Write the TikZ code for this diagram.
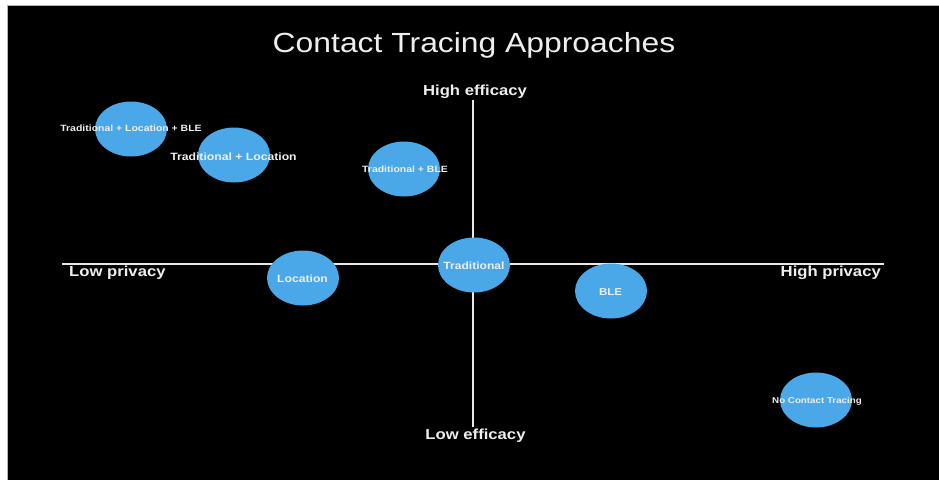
\documentclass[tikz,border=0pt]{standalone}
\usepackage{fontspec}
\setmainfont{Liberation Sans}[FakeStretch=1.15]
\usetikzlibrary{shapes.geometric}
\definecolor{bubbleblue}{RGB}{74,168,232}
\definecolor{txtwhite}{RGB}{238,238,238}
\definecolor{axiscol}{RGB}{232,232,232}
\tikzset{
  bubble/.style={ellipse, fill=bubbleblue, draw=none, minimum width=72pt, minimum height=55pt, inner sep=0pt},
  blabel/.style={text=txtwhite, font=\bfseries\fontsize{#1}{#1}\selectfont, inner sep=0pt},
  axislabel/.style={text=txtwhite, font=\bfseries\fontsize{14.5}{16}\selectfont, inner sep=0pt},
  axisline/.style={draw=axiscol, line width=2.8pt},
}
\begin{document}
\begin{tikzpicture}[x=1pt,y=-1pt]
\useasboundingbox (0,0) rectangle (939,480);
\fill[white] (0,0) rectangle (939,480);
\fill[black] (8,6) rectangle (939,480);
\draw[gray!60, line width=1pt] (7.5,480) -- (7.5,5.5) -- (939,5.5);

\node[text=txtwhite, font=\fontsize{27.7}{30}\selectfont, inner sep=0pt] (title) at (474,45) {Contact Tracing Approaches};

\coordinate (left) at (62,264);
\coordinate (right) at (884,264);
\coordinate (top) at (473,100);
\coordinate (bottom) at (473,427);
\draw[axisline] (left) -- (right);
\draw[axisline] (top) -- (bottom);

\node[axislabel] (hiE) at (475,91.5) {High efficacy};
\node[axislabel] (loE) at (475.5,436) {Low efficacy};
\node[axislabel, anchor=west] (loP) at (69,272.5) {Low privacy};
\node[axislabel, anchor=east] (hiP) at (881,272.5) {High privacy};

\node[bubble] (tlb) at (131,129) {};
\node[bubble] (tl) at (234,155) {};
\node[bubble] (tb) at (404,169) {};
\node[bubble] (trad) at (474,265) {};
\node[bubble] (loc) at (303,278) {};
\node[bubble] (ble) at (611,291) {};
\node[bubble] (nct) at (816,400) {};

\node[blabel=9.1] (tlbL) at (131,128.5) {Traditional + Location + BLE};
\node[blabel=10.6] (tlL) at (233.5,156.5) {Traditional + Location};
\node[blabel=9.1] (tbL) at (405,169.5) {Traditional + BLE};
\node[blabel=10.5] (tradL) at (474,265.5) {Traditional};
\node[blabel=10.6] (locL) at (302.5,278.5) {Location};
\node[blabel=10] (bleL) at (610.5,292.5) {BLE};
\node[blabel=8.5] (nctL) at (817,401.5) {No Contact Tracing};
\end{tikzpicture}
\end{document}
